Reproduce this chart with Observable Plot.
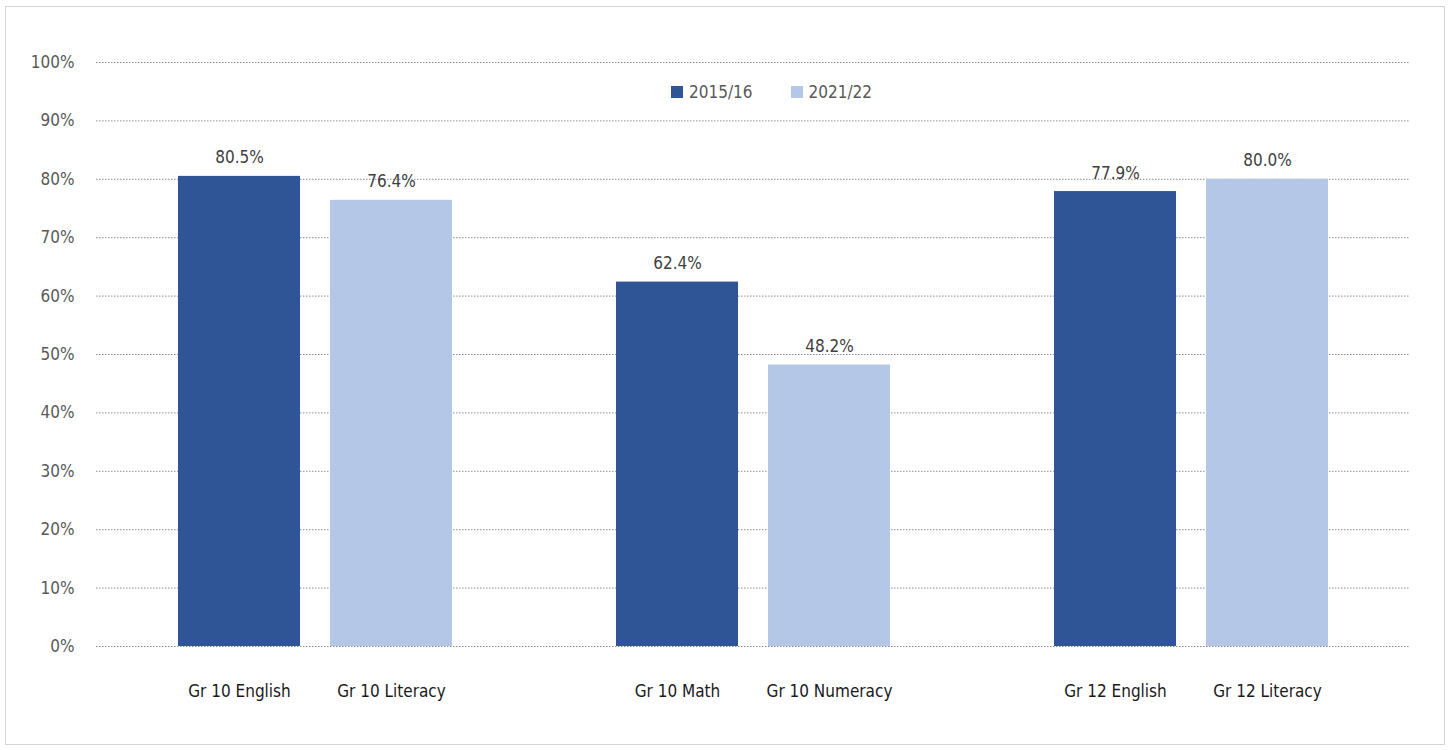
<!DOCTYPE html>
<html>
<head>
<meta charset="utf-8">
<script src="https://cdn.jsdelivr.net/npm/d3@7"></script>
<script src="https://cdn.jsdelivr.net/npm/@observablehq/plot@0.6"></script>
<style>
  html, body { margin: 0; padding: 0; background: #fff; }
  body { width: 1450px; height: 750px; position: relative; overflow: hidden;
         font-family: "Liberation Sans Narrow", "DejaVu Sans Condensed", "Noto Sans", sans-serif; }
  #frame { position: absolute; left: 5px; top: 6px; width: 1440px; height: 739px;
           border: 1.5px solid #d4d4d4; box-sizing: border-box; }
  #chart { position: absolute; left: 0; top: 0; }
  #legend { position: absolute; top: 82px; left: 671px; display: flex; gap: 38px;
            font-size: 17px; color: #595959; }
  #legend .item { display: flex; align-items: center; gap: 6px; }
  #legend .sw { width: 12px; height: 12px; display: inline-block; }
</style>
</head>
<body>
<div id="frame"></div>
<div id="chart"></div>
<div id="legend"></div>
<script>
const categories = ["Gr 10 English", "Gr 10 Literacy", "Gr 10 Math", "Gr 10 Numeracy", "Gr 12 English", "Gr 12 Literacy"];
const groups = ["Gr 10 Language", "Gr 10 Language", "Gr 10 Mathematics", "Gr 10 Mathematics", "Gr 12 Language", "Gr 12 Language"];
const seriesOfBar = ["2015/16", "2021/22", "2015/16", "2021/22", "2015/16", "2021/22"];
const values = [80.5, 76.4, 62.4, 48.2, 77.9, 80.0];
const seriesNames = ["2015/16", "2021/22"];
const seriesColors = ["#2F5597", "#B4C7E7"];
const yTicks = [0, 10, 20, 30, 40, 50, 60, 70, 80, 90, 100];

const table = categories.map((c, i) => ({
  category: c, group: groups[i], series: seriesOfBar[i], value: values[i]
}));

const font = '"Liberation Sans Narrow", "DejaVu Sans Condensed", "Noto Sans", sans-serif';

const chart = Plot.plot({
  width: 1450,
  height: 750,
  marginLeft: 95,
  marginRight: 40,
  marginTop: 62,
  marginBottom: 104,
  style: { fontFamily: font, fontSize: "17px", background: "transparent", overflow: "visible", color: "#595959" },
  facet: { data: table, x: "group" },
  fx: { domain: [...new Set(groups)], padding: 0, axis: null },
  x: { domain: seriesNames, paddingInner: 0.2, paddingOuter: 0.535, axis: null },
  y: { domain: [0, 100], ticks: yTicks, tickFormat: d => d + "%", tickSize: 0, tickPadding: 22, label: null },
  color: { domain: seriesNames, range: seriesColors },
  marks: [
    Plot.ruleY(yTicks.filter(d => d > 0), { stroke: "#8c8c8c", strokeWidth: 1, strokeDasharray: "1.5,1.5" }),
    Plot.barY(table, { x: "series", y: "value", fill: "series" }),
    Plot.ruleY([0], { stroke: "#8c8c8c", strokeWidth: 1, strokeDasharray: "1.5,1.5" }),
    Plot.text(table, { x: "series", y: "value", text: d => d.value.toFixed(1) + "%", lineAnchor: "bottom", dy: -13, fill: "#404040", fontSize: 17 }),
    Plot.text(table, { x: "series", text: "category", frameAnchor: "bottom", lineAnchor: "middle", dy: 45, fill: "#1a1a1a", fontSize: 17 })
  ]
});
document.getElementById("chart").appendChild(chart);

const legend = document.getElementById("legend");
seriesNames.forEach((s, i) => {
  const item = document.createElement("div");
  item.className = "item";
  const sw = document.createElement("span");
  sw.className = "sw";
  sw.style.background = seriesColors[i];
  const t = document.createElement("span");
  t.textContent = s;
  item.appendChild(sw);
  item.appendChild(t);
  legend.appendChild(item);
});
</script>
</body>
</html>
